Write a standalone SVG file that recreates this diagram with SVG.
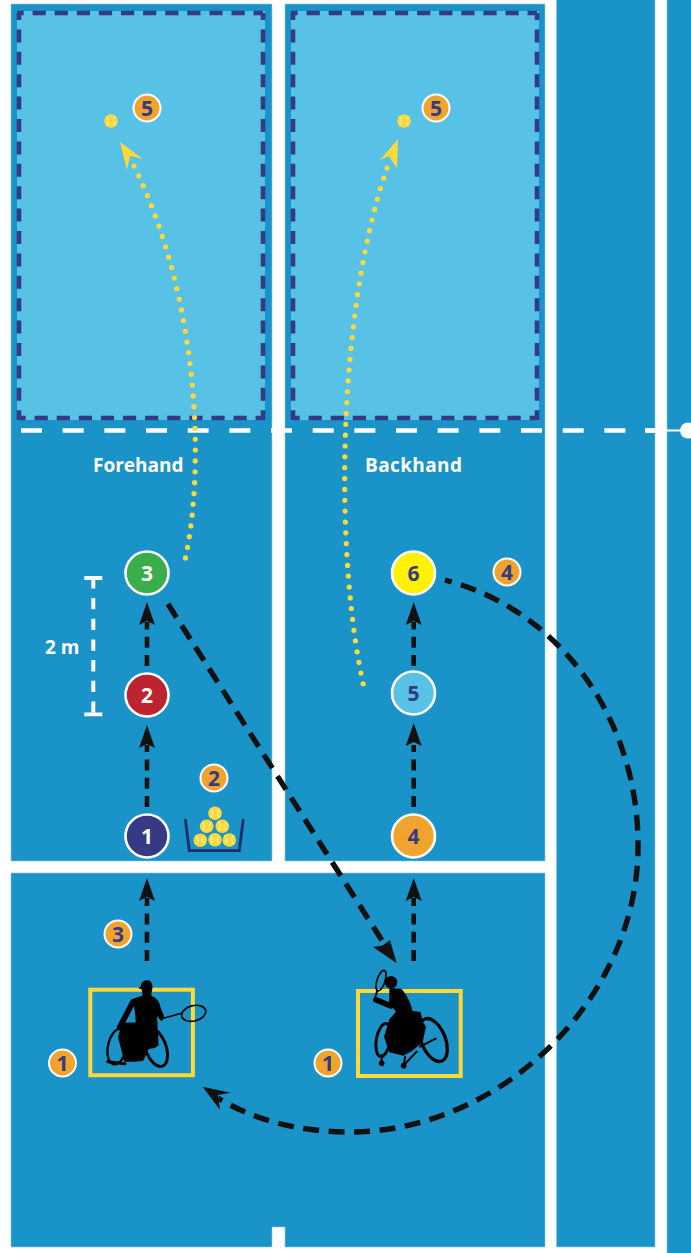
<svg xmlns="http://www.w3.org/2000/svg" xmlns:xlink="http://www.w3.org/1999/xlink" width="691" height="1253" viewBox="0 0 691 1253">
<style>
.court{fill:#1a93c8;stroke:#8ccbe8;stroke-width:.6}
.zone{fill:#57c1e6}
.zh{fill:none;stroke:#363a85;stroke-width:4.6;stroke-dasharray:13.2 8.9;stroke-dashoffset:6.5}
.zv{fill:none;stroke:#363a85;stroke-width:4.6;stroke-dasharray:13 9.4;stroke-dashoffset:6}
.net{fill:none;stroke:#fff;stroke-width:4.3;stroke-dasharray:21 20.67}
.blk{fill:none;stroke:#111;stroke-width:4.6;stroke-dasharray:11 7.3}
.blk2{fill:none;stroke:#111;stroke-width:5.4;stroke-dasharray:16 9.5}
.dot{fill:none;stroke:#ffd83a;stroke-width:5.2;stroke-linecap:round;stroke-dasharray:0 10.85}
.big{stroke:#fff;stroke-width:2.6}
.bdg{fill:#f0a42d;stroke:#fff;stroke-width:2}
.num{font:700 21px "Open Sans",sans-serif;text-anchor:middle;fill:#363a85}
.wht{fill:#fff}
.lbl{font:700 19px "Open Sans",sans-serif;fill:#fff}
.sq{fill:none;stroke:#ffd83a;stroke-width:4}
.sil{fill:#000}
.silw{fill:none;stroke:#000;stroke-linecap:round;stroke-linejoin:round}
.seam{fill:none;stroke:#fff;stroke-width:.7}
</style>
<defs>
<path id="head" d="M0,0L8,23L0,19L-8,23Z" fill="#111"/>
<g id="ball"><circle r="6.8" fill="#ffd83a"/><path class="seam" d="M-4.7,-4.4C-1.5,-2-1.5,2-4.7,4.4M4.7,-4.4C1.5,-2 1.5,2 4.7,4.4"/></g>
</defs>
<rect width="691" height="1253" fill="#fff"/>
<g id="court">
<rect class="court" x="11" y="4" width="261" height="857"/>
<rect class="court" x="285" y="4" width="260" height="857"/>
<path class="court" d="M11,873H545V1247H285V1227H272V1247H11Z"/>
<rect class="court" x="556.5" y="-2" width="98.5" height="1249"/>
<rect class="court" x="667" y="-2" width="26" height="1257"/>
<rect class="zone" x="17" y="11" width="248" height="409"/>
<rect class="zone" x="291" y="11" width="248" height="409"/>
<path class="zh" d="M17,13H263M19,418H263"/><path class="zv" d="M19,13V420M263,13V420"/>
<path class="zh" d="M291,13H537M293,418H537"/><path class="zv" d="M293,13V420M537,13V420"/>
<path class="net" d="M21,430.5H667"/>
<path d="M645,430.5H667" stroke="#fff" stroke-width="4.3"/>
<path d="M667,430.5H682" stroke="#fff" stroke-width="2"/>
<circle cx="688" cy="430.5" r="8" fill="#fff"/>
</g>
<g id="labels">
<text class="lbl" x="93" y="471.5">Forehand</text>
<text class="lbl" x="365" y="471.5" textLength="97">Backhand</text>
<text class="lbl" x="45" y="653.5">2 m</text>
<path d="M84.3,578H102.3M84.3,714.3H102.3" stroke="#fff" stroke-width="3.8" fill="none"/>
<path d="M93.3,577.3V714" stroke="#fff" stroke-width="4" stroke-dasharray="11.3 9.4" fill="none"/>
</g>
<g id="connectors">
<path class="dot" d="M134,166C200,300 205,470 185,560"/>
<path d="M120,142L143,159L130,156L127,170Z" fill="#ffd83a"/>
<path class="dot" d="M387,168C335,320 335,565 365,692"/>
<path d="M398,139L397,168L389,156L380,160Z" fill="#ffd83a"/>
<path class="blk" d="M147,807V745"/><use href="#head" x="147" y="725"/>
<path class="blk" d="M147,666V622"/><use href="#head" x="147" y="602"/>
<path class="blk" d="M147,961V898"/><use href="#head" x="147" y="878"/>
<path class="blk" d="M413.7,807V745"/><use href="#head" x="413.7" y="723"/>
<path class="blk" d="M413.7,666V622"/><use href="#head" x="413.7" y="602"/>
<path class="blk" d="M413.7,961V898"/><use href="#head" x="413.7" y="878"/>
<path class="blk2" d="M168,604L388,950"/>
<path d="M396.7,963.3L373,947L382.5,945.5L390,940Z" fill="#111"/>
<path class="blk2" stroke-dashoffset="9" d="M445,580C560,610 640,720 638,850C636,1000 500,1132 350,1132C295,1132 250,1118 218,1098"/>
<path d="M202.7,1086.7L230.7,1092.7L218,1095L220,1110Z" fill="#111"/>
</g>
<g id="node-zone-ball-1"><use href="#ball" x="111" y="121"/><circle class="bdg" cx="147" cy="108" r="13.5"/><text class="num" x="147" y="115.5">5</text></g>
<g id="node-zone-ball-2"><use href="#ball" x="404" y="121"/><circle class="bdg" cx="436" cy="108" r="13.5"/><text class="num" x="436" y="115.5">5</text></g>
<g id="node-1"><circle class="big" cx="147" cy="836" r="21.5" fill="#363a85"/><text class="num wht" x="147" y="843.5">1</text></g>
<g id="node-2"><circle class="big" cx="147" cy="695" r="21.5" fill="#bd2330"/><text class="num wht" x="147" y="702.5">2</text></g>
<g id="node-3"><circle class="big" cx="147" cy="573" r="21.5" fill="#39ae4a"/><text class="num wht" x="147" y="580.5">3</text></g>
<g id="node-4"><circle class="big" cx="413.5" cy="836" r="21.5" fill="#f0a42d"/><text class="num" x="413.5" y="843.5">4</text></g>
<g id="node-5"><circle class="big" cx="413.5" cy="693" r="21.5" fill="#57c1e6"/><text class="num" x="413.5" y="700.5">5</text></g>
<g id="node-6"><circle class="big" cx="413.5" cy="573" r="21.5" fill="#fff200"/><text class="num" x="413.5" y="580.5">6</text></g>
<g id="badge-2"><circle class="bdg" cx="214" cy="778" r="13.5"/><text class="num" x="214" y="785.5">2</text></g>
<g id="badge-3"><circle class="bdg" cx="118" cy="934" r="13.5"/><text class="num" x="118" y="941.5">3</text></g>
<g id="badge-1a"><circle class="bdg" cx="62.5" cy="1063" r="13.5"/><text class="num" x="62.5" y="1070.5">1</text></g>
<g id="badge-1b"><circle class="bdg" cx="328" cy="1063" r="13.5"/><text class="num" x="328" y="1070.5">1</text></g>
<g id="badge-4"><circle class="bdg" cx="507" cy="572" r="13.5"/><text class="num" x="507" y="579.5">4</text></g>
<g id="basket">
<path d="M185.3,819L189.3,850.7H239.3L243.3,819" fill="none" stroke="#1f2d6b" stroke-width="2.8"/>
<use href="#ball" x="215" y="813.3"/><use href="#ball" x="206.7" y="826.3"/><use href="#ball" x="222.3" y="826.3"/><use href="#ball" x="200.3" y="840.3"/><use href="#ball" x="215" y="839.7"/><use href="#ball" x="229.3" y="840"/>
</g>
<g id="player-forehand">
<rect class="sq" x="90.3" y="989.7" width="102.6" height="85.5"/>
<g transform="translate(60,950) scale(.3333)">
<path class="sil" d="M234,114L242,111C242,99 251,90 262,90C273,90 279,102 277,116C275,128 272,134 276,139C290,144 298,155 301,170L314,203L304,214L291,198L292,222L228,222L224,180L214,150C222,142 238,141 246,137C249,130 246,122 244,118Z"/>
<path class="silw" stroke-width="17" d="M218,157L179,232"/>
<path class="sil" d="M186,218L292,216L296,286L284,294L266,297L250,332L225,335L193,335L184,300L174,262Z"/>
<ellipse class="silw" stroke-width="7" cx="172" cy="290" rx="28" ry="54" transform="rotate(12 172 290)"/>
<path class="silw" stroke-width="9" d="M143,335L195,341"/>
<ellipse class="silw" stroke-width="9" cx="287" cy="292" rx="31" ry="60" transform="rotate(-20 287 292)"/>
<path class="silw" stroke-width="4.5" d="M310,205L364,190"/>
<ellipse class="silw" stroke-width="5" cx="401" cy="190" rx="37" ry="23" transform="rotate(-15 401 190)"/>
</g>
</g>
<g id="player-backhand">
<rect class="sq" x="358" y="991" width="102.7" height="85"/>
<g transform="translate(340,940) scale(.3333)">
<circle class="sil" cx="153" cy="127" r="19"/>
<path class="sil" d="M148,145L184,146C200,163 213,190 218,213L242,216L248,245L258,260L248,307L217,332L190,347L148,337L132,290L148,238L168,215L148,190Z"/>
<path class="silw" stroke-width="17" d="M160,170L152,198L108,180"/>
<ellipse class="silw" stroke-width="10" cx="280" cy="300" rx="36" ry="68" transform="rotate(-22 280 300)"/>
<ellipse class="silw" stroke-width="9" cx="130" cy="300" rx="21" ry="50" transform="rotate(10 130 300)"/>
<ellipse class="silw" stroke-width="5" cx="123" cy="122" rx="12" ry="32" transform="rotate(18 123 122)"/>
<path class="silw" stroke-width="6" d="M103,180L112,152M240,320L287,296M125,345V370M195,350L192,375L230,335"/>
<circle class="sil" cx="125" cy="370" r="8.5"/><circle class="sil" cx="191" cy="377" r="8.5"/>
</g>
</g>
</svg>
